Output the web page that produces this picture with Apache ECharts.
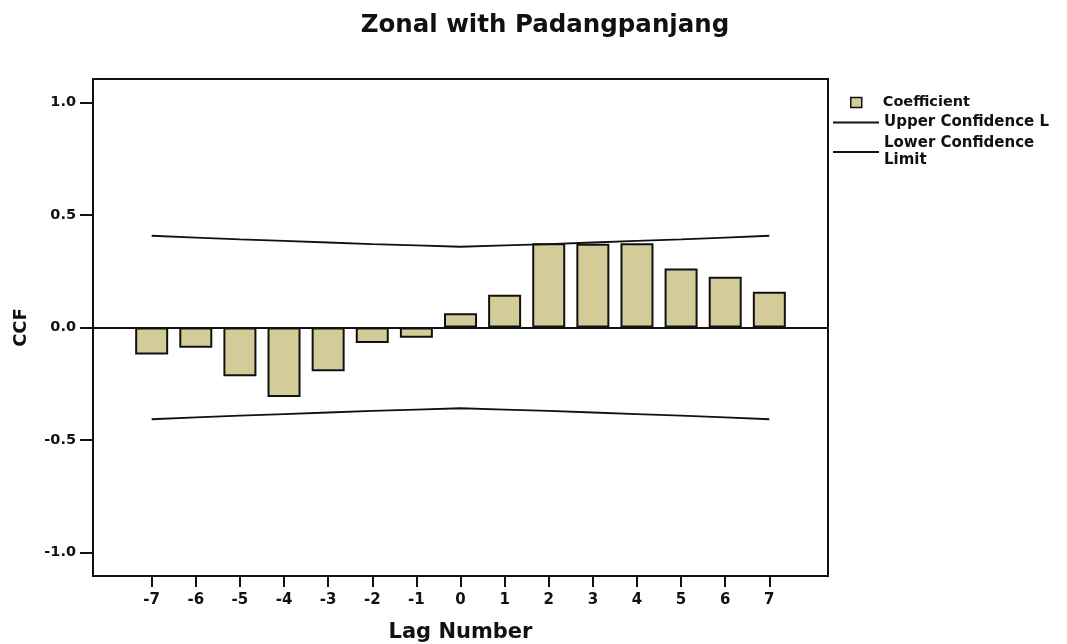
<!DOCTYPE html>
<html>
<head>
<meta charset="utf-8">
<script src="https://cdn.jsdelivr.net/npm/echarts@6/dist/echarts.min.js"></script>
<style>html,body{margin:0;padding:0;background:#fff}#c{width:1067px;height:644px}</style>
</head>
<body>
<div id="c"></div>
<script>
const lags = [-7, -6, -5, -4, -3, -2, -1, 0, 1, 2, 3, 4, 5, 6, 7];
const coefficient = [-0.12, -0.09, -0.217, -0.309, -0.195, -0.069, -0.046, 0.063, 0.146, 0.375, 0.372, 0.375, 0.262, 0.226, 0.159];
const upperLimit = [0.408, 0.400, 0.392, 0.385, 0.378, 0.371, 0.365, 0.359, 0.365, 0.371, 0.378, 0.385, 0.392, 0.400, 0.408];
const lowerLimit = [-0.408, -0.400, -0.392, -0.385, -0.378, -0.371, -0.365, -0.359, -0.365, -0.371, -0.378, -0.385, -0.392, -0.400, -0.408];
const yTicks = [-1.0, -0.5, 0.0, 0.5, 1.0];

const FONT = 'DejaVu Sans';
const pair = arr => lags.map((l, i) => [l, arr[i]]);

const chart = echarts.init(document.getElementById('c'), null, {renderer: 'canvas'});
chart.setOption({
  animation: false,
  backgroundColor: '#fff',
  title: {
    text: 'Zonal with Padangpanjang',
    left: 540, textAlign: 'center', top: 8,
    textStyle: {fontFamily: FONT, fontWeight: 'bold', fontSize: 24.5, color: '#111'}
  },
  grid: {left: 93, right: 239, top: 79, bottom: 68, outerBoundsMode: 'none', containLabel: false,
    show: true, borderColor: '#111', borderWidth: 2, backgroundColor: '#fff'},
  legend: [
    {
      data: [{name: 'Coefficient', icon: 'rect', itemStyle: {color: '#d4cc98', borderColor: '#111', borderWidth: 1.5}}],
      orient: 'vertical', left: 845, top: 89, itemWidth: 11, itemHeight: 10,
      selectedMode: false,
      textStyle: {fontFamily: FONT, fontWeight: 'bold', fontSize: 14.5, color: '#111', padding: [0, 0, 0, 16], lineHeight: 17}
    },
    {
      data: [
        {name: 'Upper Confidence Limit', icon: 'rect', itemStyle: {color: '#111'}},
        {name: 'Lower Confidence Limit', icon: 'rect', itemStyle: {color: '#111'}}
      ],
      formatter: n => n === 'Upper Confidence Limit' ? 'Upper Confidence L' : 'Lower Confidence\nLimit',
      orient: 'vertical', left: 828, top: 109, itemWidth: 46, itemHeight: 2, itemGap: 4,
      selectedMode: false,
      textStyle: {fontFamily: FONT, fontWeight: 'bold', fontSize: 15, color: '#111', lineHeight: 17}
    }
  ],
  xAxis: {
    type: 'value', min: -8.33, max: 8.33,
    name: 'Lag Number', nameLocation: 'middle', nameGap: 46,
    nameTextStyle: {fontFamily: FONT, fontWeight: 'bold', fontSize: 21, color: '#111'},
    axisLine: {show: true, onZero: false, lineStyle: {color: '#111', width: 2}},
    axisTick: {show: true, customValues: lags, length: 11, lineStyle: {color: '#111', width: 2}},
    axisLabel: {customValues: lags, margin: 17, fontFamily: FONT, fontWeight: 'bold', fontSize: 15, color: '#111'},
    splitLine: {show: false}
  },
  yAxis: {
    type: 'value', min: -1.105, max: 1.105,
    name: 'CCF', nameLocation: 'middle', nameGap: 63, nameRotate: 90,
    nameTextStyle: {fontFamily: FONT, fontWeight: 'bold', fontSize: 18, color: '#111'},
    axisLine: {show: true, onZero: false, lineStyle: {color: '#111', width: 2}},
    axisTick: {show: true, customValues: yTicks, length: 13, lineStyle: {color: '#111', width: 2}},
    axisLabel: {customValues: yTicks, margin: 17, formatter: v => v.toFixed(1), fontFamily: FONT, fontWeight: 'bold', fontSize: 14.5, color: '#111'},
    splitLine: {show: false}
  },
  series: [
    {
      name: 'Coefficient', type: 'bar', barWidth: 33,
      data: pair(coefficient),
      itemStyle: {color: '#d4cc98', borderColor: '#111', borderWidth: 2},
      markLine: {
        silent: true, symbol: 'none', label: {show: false},
        lineStyle: {color: '#111', width: 1.8, type: 'solid'},
        data: [{yAxis: 0}]
      }
    },
    {
      name: 'Upper Confidence Limit', type: 'line', data: pair(upperLimit),
      showSymbol: false, lineStyle: {color: '#111', width: 1.8}, itemStyle: {color: '#111'}
    },
    {
      name: 'Lower Confidence Limit', type: 'line', data: pair(lowerLimit),
      showSymbol: false, lineStyle: {color: '#111', width: 1.8}, itemStyle: {color: '#111'}
    }
  ]
});
</script>
</body>
</html>
